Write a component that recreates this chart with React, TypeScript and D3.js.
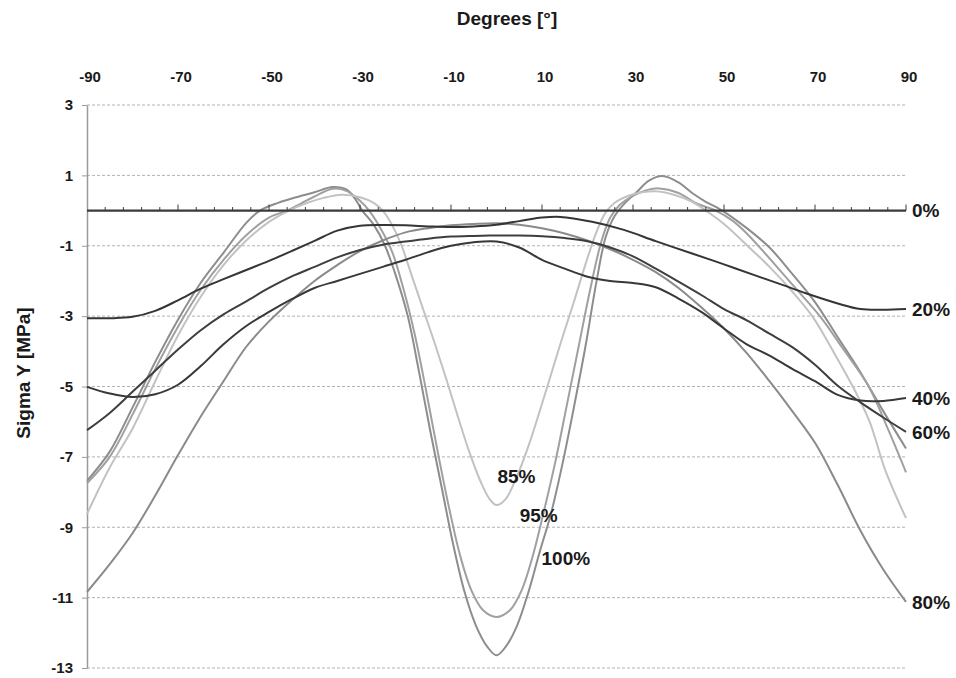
import { useEffect, useRef } from "react";
import * as d3 from "d3";

type Pt = [number, number];

// axis ticks
const degreeTicks = [-90, -70, -50, -30, -10, 10, 30, 50, 70, 90];
const sigmaTicks = [3, 1, -1, -3, -5, -7, -9, -11, -13];

// [degrees, sigma Y MPa]
const sigma0: Pt[] = [[-90, 0], [90, 0]];

const sigma20: Pt[] = [
  [-90, -3.06], [-85, -3.06], [-80, -3.02], [-75, -2.85], [-70, -2.55], [-65, -2.22],
  [-60, -1.95], [-55, -1.69], [-50, -1.43], [-45, -1.15], [-40, -0.86], [-35, -0.57],
  [-30, -0.43], [-25, -0.41], [-20, -0.42], [-15, -0.45], [-10, -0.47], [-5, -0.45],
  [0, -0.4], [5, -0.3], [10, -0.2], [14, -0.18], [21, -0.32], [28, -0.55], [35, -0.87],
  [43, -1.22], [50, -1.53], [57, -1.85], [63, -2.12], [68, -2.35], [75, -2.64],
  [80, -2.8], [85, -2.82], [90, -2.8],
];

const sigma40: Pt[] = [
  [-90, -5.01], [-85, -5.2], [-80, -5.3], [-75, -5.22], [-70, -4.95], [-65, -4.42],
  [-60, -3.8], [-55, -3.28], [-50, -2.88], [-45, -2.52], [-40, -2.2], [-35, -2.0],
  [-30, -1.8], [-25, -1.6], [-20, -1.4], [-15, -1.18], [-10, -1.0], [-5, -0.9],
  [0, -0.88], [5, -1.05], [10, -1.4], [15, -1.65], [20, -1.88], [25, -2.0], [30, -2.06],
  [35, -2.18], [40, -2.5], [45, -2.88], [50, -3.35], [55, -3.8], [60, -4.12],
  [65, -4.5], [70, -4.85], [75, -5.24], [80, -5.4], [85, -5.41], [90, -5.33],
];

const sigma60: Pt[] = [
  [-90, -6.24], [-85, -5.75], [-80, -5.15], [-75, -4.55], [-70, -3.95], [-65, -3.4],
  [-60, -2.95], [-55, -2.58], [-50, -2.2], [-45, -1.87], [-40, -1.6], [-35, -1.33],
  [-30, -1.12], [-25, -0.97], [-20, -0.88], [-15, -0.8], [-10, -0.74], [-5, -0.72],
  [0, -0.71], [5, -0.71], [10, -0.73], [15, -0.78], [20, -0.87], [25, -1.05], [30, -1.3],
  [35, -1.65], [40, -2.02], [45, -2.4], [50, -2.8], [55, -3.12], [60, -3.5],
  [65, -3.88], [70, -4.38], [75, -4.98], [80, -5.45], [85, -5.88], [90, -6.29],
];

const sigma80: Pt[] = [
  [-90, -10.84], [-85, -10.05], [-80, -9.17], [-75, -8.1], [-70, -6.95], [-65, -5.85],
  [-60, -4.85], [-55, -3.87], [-50, -3.15], [-45, -2.55], [-40, -2.0], [-35, -1.55],
  [-30, -1.15], [-25, -0.85], [-20, -0.62], [-15, -0.5], [-10, -0.42], [-5, -0.38],
  [0, -0.36], [5, -0.4], [10, -0.5], [15, -0.65], [20, -0.85], [25, -1.1], [30, -1.4],
  [35, -1.75], [40, -2.2], [45, -2.75], [50, -3.35], [55, -4.05], [60, -4.85],
  [65, -5.7], [70, -6.6], [75, -7.8], [80, -9.1], [85, -10.2], [90, -11.12],
];

const sigma85: Pt[] = [
  [-90, -8.62], [-85, -7.3], [-80, -6.2], [-75, -4.85], [-70, -3.55], [-65, -2.45],
  [-60, -1.55], [-55, -0.85], [-50, -0.32], [-45.6, 0], [-42, 0.2], [-38, 0.36],
  [-34, 0.45], [-30, 0.38], [-27, 0.22], [-25, 0], [-23, -0.4], [-21, -0.95],
  [-18.5, -1.9], [-16, -2.85], [-13.5, -3.8], [-11, -4.8], [-8.5, -5.85], [-6, -6.85],
  [-3.5, -7.7], [-1.5, -8.2], [0, -8.37], [2, -8.2], [4.5, -7.55], [7, -6.7],
  [9.5, -5.7], [12, -4.65], [14.5, -3.6], [17, -2.6], [19.5, -1.55], [22, -0.6],
  [24, -0.05], [26, 0.22], [29, 0.42], [32, 0.52], [35, 0.55], [39, 0.45], [43, 0.25],
  [46, 0], [50, -0.38], [56.3, -1.14], [60, -1.6], [65, -2.3], [69.5, -3.02], [74, -4.0],
  [78.3, -5.0], [82, -6.0], [85.5, -7.4], [90, -8.74],
];

const sigma95: Pt[] = [
  [-90, -7.75], [-85, -7.0], [-80, -5.8], [-75, -4.5], [-70, -3.3], [-65, -2.25],
  [-60, -1.4], [-55, -0.7], [-50, -0.2], [-46, 0], [-43, 0.2], [-40, 0.4], [-36, 0.62],
  [-33, 0.56], [-30, 0.28], [-28, 0], [-25.5, -0.5], [-23, -1.15], [-20.5, -2.2],
  [-18, -3.5], [-15.5, -5.1], [-13, -6.8], [-10.5, -8.4], [-8, -9.8], [-5.5, -10.8],
  [-3, -11.35], [0, -11.55], [3, -11.35], [5.5, -10.8], [8, -9.8], [10.5, -8.5],
  [13, -7.1], [15.5, -5.5], [18, -3.9], [20.5, -2.3], [23, -0.9], [25, -0.2],
  [27, 0.15], [30, 0.42], [33, 0.58], [35.7, 0.63], [40, 0.5], [44, 0.2], [48.2, 0],
  [52, -0.3], [55, -0.65], [58.5, -1.14], [65, -2.1], [71.2, -3.02], [76, -3.9],
  [81.8, -5.0], [86, -6.2], [90, -7.44],
];

const sigma100: Pt[] = [
  [-90, -7.68], [-85, -6.85], [-80, -5.6], [-75, -4.3], [-70, -3.1], [-65, -2.05],
  [-60, -1.2], [-55, -0.35], [-52, 0], [-48, 0.22], [-44, 0.38], [-40, 0.52],
  [-36, 0.67], [-33, 0.6], [-31, 0.32], [-29.5, 0], [-27, -0.4], [-24.5, -1.0],
  [-22, -1.9], [-19.5, -3.0], [-17, -4.6], [-14.5, -6.3], [-12, -7.9], [-9.5, -9.5],
  [-7, -10.85], [-4.5, -11.8], [-2, -12.4], [0, -12.64], [2, -12.4], [4.5, -11.8],
  [7, -10.85], [9.5, -9.7], [12, -8.6], [14.5, -7.2], [17, -5.6], [19.5, -3.9],
  [22, -2.0], [24, -0.75], [26, -0.15], [28.5, 0.25], [31, 0.55], [33.5, 0.85],
  [36.5, 0.98], [40, 0.8], [43, 0.5], [46, 0.25], [49.6, 0], [55, -0.5],
  [60, -1.05], [65, -1.8], [70, -2.6], [75, -3.6], [80, -4.6], [85, -5.7], [90, -6.76],
];

// draw order: light curves under the dark ones
const seriesNames = ["100%", "95%", "85%", "80%", "60%", "40%", "20%"];
const seriesData = [sigma100, sigma95, sigma85, sigma80, sigma60, sigma40, sigma20];

const lineColors: Record<string, string> = {
  "100%": "#8d8d8d",
  "95%": "#a0a0a0",
  "85%": "#c2c2c2",
  "80%": "#8a8a8a",
  "60%": "#3e3e3e",
  "40%": "#383838",
  "20%": "#353535",
};

// labels sitting at the right edge, next to the curve ends
const endLabelNames = ["0%", "20%", "40%", "60%", "80%"];
const endLabelData = [sigma0, sigma20, sigma40, sigma60, sigma80];

// labels inside the plot, anchored in data units [deg, MPa]
const innerLabels: { name: string; at: Pt }[] = [
  { name: "85%", at: [0.2, -7.55] },
  { name: "95%", at: [5.1, -8.66] },
  { name: "100%", at: [9.9, -9.88] },
];

const FONT = "'Liberation Sans', Arial, Helvetica, sans-serif";

const App = () => {
  const svgRef = useRef<SVGSVGElement | null>(null);

  useEffect(() => {
    const el = svgRef.current;
    if (!el) return;
    const svg = d3.select(el);
    svg.selectAll("*").remove();

    const x = d3.scaleLinear().domain([-90, 90]).range([87, 906]);
    const y = d3.scaleLinear().domain([-13, 3]).range([668, 105]);

    // dashed gridlines
    svg
      .append("g")
      .selectAll("line")
      .data(sigmaTicks)
      .join("line")
      .attr("x1", x(-90))
      .attr("x2", x(90))
      .attr("y1", (d) => y(d))
      .attr("y2", (d) => y(d))
      .attr("stroke", "#b2b2b2")
      .attr("stroke-width", 1)
      .attr("stroke-dasharray", "3 2");

    // y axis on the left
    const yAxis = svg
      .append("g")
      .attr("transform", `translate(${x(-90)},0)`)
      .call(
        d3
          .axisLeft(y)
          .tickValues(sigmaTicks)
          .tickSize(5)
          .tickSizeOuter(0)
          .tickPadding(9)
          .tickFormat((d) => String(d))
      );
    yAxis.select(".domain").attr("stroke", "#9a9a9a").attr("stroke-width", 1.5);
    yAxis.selectAll(".tick line").attr("stroke", "#9a9a9a");
    yAxis
      .selectAll(".tick text")
      .attr("fill", "#1a1a1a")
      .attr("font-family", FONT)
      .attr("font-weight", "bold")
      .attr("font-size", 15);

    // degree labels along the top
    svg
      .append("g")
      .selectAll("text")
      .data(degreeTicks)
      .join("text")
      .attr("x", (d) => x(d) + 3)
      .attr("y", 82)
      .attr("text-anchor", "middle")
      .attr("font-family", FONT)
      .attr("font-weight", "bold")
      .attr("font-size", 15)
      .attr("fill", "#1a1a1a")
      .text((d) => String(d));

    const line = d3
      .line<Pt>()
      .x((d) => x(d[0]))
      .y((d) => y(d[1]))
      .curve(d3.curveCatmullRom.alpha(0.5));

    svg
      .append("g")
      .attr("fill", "none")
      .selectAll("path")
      .data(seriesData)
      .join("path")
      .attr("d", (d) => line(d))
      .attr("stroke", (_, i) => lineColors[seriesNames[i]])
      .attr("stroke-width", 2)
      .attr("stroke-linejoin", "round");

    // 0% line doubles as the horizontal axis with small tick marks
    const zero = svg.append("g");
    zero
      .append("path")
      .attr("d", line(sigma0))
      .attr("stroke", "#3a3a3a")
      .attr("stroke-width", 2.2)
      .attr("fill", "none");
    zero
      .selectAll("line")
      .data(d3.range(-86, 91, 4))
      .join("line")
      .attr("x1", (d) => x(d))
      .attr("x2", (d) => x(d))
      .attr("y1", y(0))
      .attr("y2", (d) => y(0) - ((d + 90) % 20 === 0 ? 6 : 3.5))
      .attr("stroke", "#3a3a3a")
      .attr("stroke-width", 1);

    // end labels
    svg
      .append("g")
      .selectAll("text")
      .data(endLabelNames)
      .join("text")
      .attr("x", x(90) + 6)
      .attr("y", (_, i) => {
        const pts = endLabelData[i];
        return y(pts[pts.length - 1][1]);
      })
      .attr("dy", "0.36em")
      .attr("font-family", FONT)
      .attr("font-weight", "bold")
      .attr("font-size", 19)
      .attr("fill", "#1a1a1a")
      .text((d) => d);

    svg
      .append("g")
      .selectAll("text")
      .data(innerLabels)
      .join("text")
      .attr("x", (d) => x(d.at[0]))
      .attr("y", (d) => y(d.at[1]))
      .attr("dy", "0.36em")
      .attr("font-family", FONT)
      .attr("font-weight", "bold")
      .attr("font-size", 19)
      .attr("fill", "#1a1a1a")
      .text((d) => d.name);

    // axis titles
    svg
      .append("text")
      .attr("x", 507)
      .attr("y", 25)
      .attr("text-anchor", "middle")
      .attr("font-family", FONT)
      .attr("font-weight", "bold")
      .attr("font-size", 19)
      .attr("fill", "#1a1a1a")
      .text("Degrees [°]");

    svg
      .append("text")
      .attr("transform", "translate(30,373) rotate(-90)")
      .attr("text-anchor", "middle")
      .attr("font-family", FONT)
      .attr("font-weight", "bold")
      .attr("font-size", 19)
      .attr("fill", "#1a1a1a")
      .text("Sigma Y [MPa]");
  }, []);

  return (
    <svg
      ref={svgRef}
      width={956}
      height={678}
      style={{ position: "absolute", left: 0, top: 0, background: "#fff" }}
    />
  );
};

export default App;
